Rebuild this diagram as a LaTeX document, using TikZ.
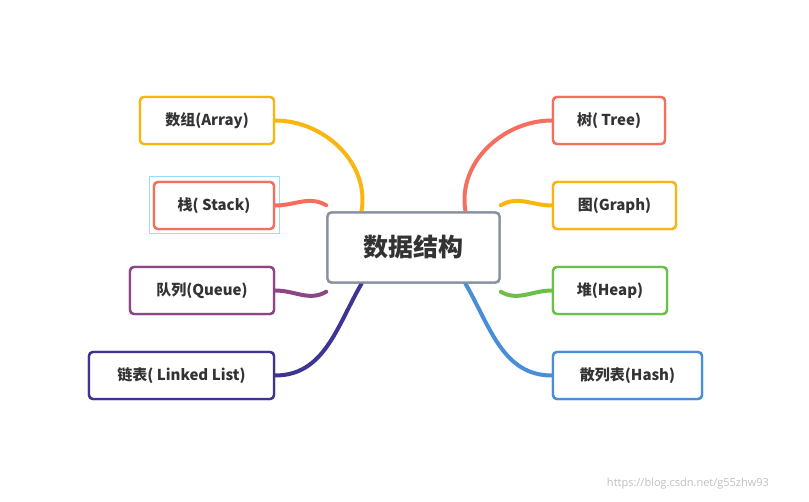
\documentclass[tikz,border=0pt]{standalone}
\usepackage{fontspec}
\setmainfont{Open Sans}
\newfontfamily\cjk{Noto Sans CJK SC}
\usetikzlibrary{positioning}
\definecolor{cOrange}{HTML}{F9B610}
\definecolor{cSalmon}{HTML}{F46F5E}
\definecolor{cPurple}{HTML}{8E4585}
\definecolor{cNavy}{HTML}{3E3592}
\definecolor{cGreen}{HTML}{6CC04A}
\definecolor{cBlue}{HTML}{4A8ED8}
\definecolor{cGrey}{HTML}{8A919E}
\begin{document}
\begin{tikzpicture}[x=1pt,y=-1pt,
    topic/.style={draw, line width=2.4pt, rounded corners=4pt, fill=white,
      minimum height=47pt, inner xsep=0pt, font=\cjk\fontsize{15}{18}\selectfont\bfseries, text=black!80},
    branch/.style={line width=4pt, line cap=round}]
  \useasboundingbox (0,0) rectangle (809,502);
  % centre
  \node[topic, draw=cGrey, minimum width=172pt, minimum height=70pt,
        font=\cjk\fontsize{25}{30}\selectfont\bfseries] (ctr) at (413.5,247.5) {数据结构};
  % left side
  \node[topic, draw=cOrange, minimum width=134pt] (arr) at (207,120.5) {数组(Array)};
  \node[draw=cyan!40, line width=1pt, minimum width=130pt, minimum height=57pt] (sel) at (214,205.5) {};
  \node[topic, draw=cSalmon, minimum width=120pt] (stk) at (214,205.5) {栈( Stack)};
  \node[topic, draw=cPurple, minimum width=144pt] (que) at (202,290.5) {队列(Queue)};
  \node[topic, draw=cNavy, minimum width=185pt] (lnk) at (181.5,375.5) {链表( Linked List)};
  % right side
  \node[topic, draw=cSalmon, minimum width=112pt] (tree) at (609,120.5) {树( Tree)};
  \node[topic, draw=cOrange, minimum width=123pt] (grph) at (614.5,205.5) {图(Graph)};
  \node[topic, draw=cGreen, minimum width=114pt] (heap) at (610,290.5) {堆(Heap)};
  \node[topic, draw=cBlue, minimum width=149pt] (hash) at (627.5,375.5) {散列表(Hash)};
  % branches
  \begin{scope}[on background layer/.try]
  \end{scope}
  \draw[branch, cOrange] ([xshift=-52pt]ctr.north) to[out=-100+180,in=0] (arr.east);
  \draw[branch, cSalmon] ([yshift=6pt]ctr.north west) to[out=150,in=0] (stk.east);
  \draw[branch, cPurple] ([yshift=-8pt]ctr.south west) to[out=210,in=0] (que.east);
  \draw[branch, cNavy] ([xshift=-52pt]ctr.south) to[out=240,in=0] (lnk.east);
  \draw[branch, cSalmon] ([xshift=52pt]ctr.north) to[out=100,in=180] (tree.west);
  \draw[branch, cOrange] ([yshift=6pt]ctr.north east) to[out=30,in=180] (grph.west);
  \draw[branch, cGreen] ([yshift=-8pt]ctr.south east) to[out=-30,in=180] (heap.west);
  \draw[branch, cBlue] ([xshift=52pt]ctr.south) to[out=-60,in=180] (hash.west);
  % redraw boxes above the branches
  \node[topic, draw=cGrey, minimum width=172pt, minimum height=70pt,
        font=\cjk\fontsize{25}{30}\selectfont\bfseries] at (ctr) {数据结构};
  \node[topic, draw=cOrange, minimum width=134pt] at (arr) {数组(Array)};
  \node[topic, draw=cSalmon, minimum width=120pt] at (stk) {栈( Stack)};
  \node[topic, draw=cPurple, minimum width=144pt] at (que) {队列(Queue)};
  \node[topic, draw=cNavy, minimum width=185pt] at (lnk) {链表( Linked List)};
  \node[topic, draw=cSalmon, minimum width=112pt] at (tree) {树( Tree)};
  \node[topic, draw=cOrange, minimum width=123pt] at (grph) {图(Graph)};
  \node[topic, draw=cGreen, minimum width=114pt] at (heap) {堆(Heap)};
  \node[topic, draw=cBlue, minimum width=149pt] at (hash) {散列表(Hash)};
  % watermark
  \node[text=black!25, font=\fontsize{11}{13}\selectfont] (wm) at (688,484) {https://blog.csdn.net/g55zhw93};
\end{tikzpicture}
\end{document}
